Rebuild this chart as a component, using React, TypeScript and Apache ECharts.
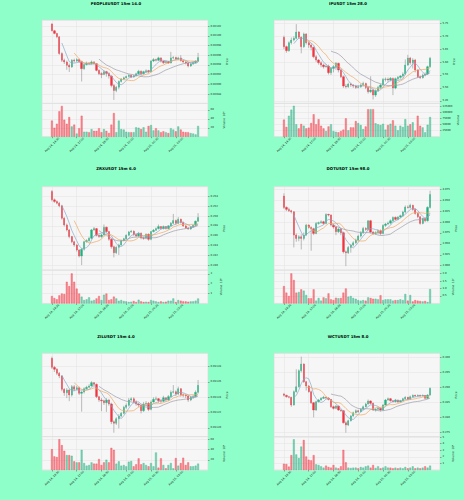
import React, { useEffect, useRef } from 'react';
import * as echarts from 'echarts';

// ---------------- data ----------------
const TICK_LABELS = ['Aug 24, 14:30', 'Aug 24, 17:00', 'Aug 24, 19:30', 'Aug 24, 22:00', 'Aug 25, 00:30', 'Aug 25, 03:00'];
const MA_WINDOWS = [5, 10, 20];

// PEOPLEUSDT (prices in 1e-5, volume in 1e6)
const PEOPLE_OPEN0 = 2102.41;
const PEOPLE_CLOSE = [2101.03,2100.48,2099.79,2096.34,2094.96,2094.62,2093.93,2093.58,2094.96,2094.82,
 2095.10,2094.69,2093.24,2094.07,2094.41,2094.27,2094.62,2094.27,2092.89,2092.20,
 2092.06,2092.62,2092.27,2091.72,2089.79,2088.75,2089.44,2090.62,2091.10,2091.37,
 2091.65,2091.86,2091.51,2091.79,2092.20,2092.69,2092.20,2092.62,2092.82,2092.62,
 2094.82,2095.10,2094.96,2095.45,2094.76,2094.48,2094.69,2094.41,2095.45,2095.51,
 2095.24,2095.45,2094.89,2094.62,2094.41,2093.79,2094.20,2094.48,2094.76,2095.51];
const PEOPLE_HIGH = [2102.60,2101.20,2100.60,2099.90,2096.60,2095.30,2094.90,2094.30,2095.20,2095.30,
 2095.40,2095.30,2094.90,2094.30,2094.70,2094.60,2094.90,2094.80,2094.40,2093.10,
 2092.50,2092.90,2092.80,2092.50,2091.90,2090.10,2089.70,2090.80,2091.30,2091.60,
 2091.80,2092.10,2092.00,2092.00,2092.40,2093.00,2092.90,2092.80,2093.10,2093.00,
 2095.00,2095.40,2095.30,2095.70,2095.60,2094.90,2094.90,2094.80,2096.69,2095.80,
 2095.70,2095.70,2096.00,2095.00,2094.80,2094.60,2094.40,2094.70,2095.00,2096.48];
const PEOPLE_LOW = [2100.90,2100.30,2099.50,2096.10,2094.60,2094.20,2093.00,2092.55,2093.40,2094.50,
 2094.60,2094.40,2090.60,2093.00,2093.90,2094.00,2094.10,2094.00,2092.70,2091.90,
 2091.30,2091.90,2091.60,2091.20,2089.40,2086.82,2088.40,2089.00,2090.40,2090.90,
 2091.20,2091.50,2091.30,2091.40,2091.60,2092.00,2091.80,2092.00,2092.40,2092.30,
 2092.50,2094.60,2094.70,2094.80,2094.50,2094.20,2094.30,2094.20,2094.30,2095.20,
 2095.00,2095.00,2094.70,2094.40,2094.10,2093.50,2093.60,2094.00,2094.30,2094.60];
const PEOPLE_VOL = [36,20,29,57,69,38,29,44,23,27, 7,19,47,11,11,10,17,13,13,19,
 10,17,13,8,27,53,10,36,17,16, 11,10,10,10,21,20,17,21,11,24,
 26,14,19,14,10,12,10,8,19,16, 12,23,16,11,10,10,8,7,5,24];

// IPUSDT
const IP_OPEN0 = 5.6957;
const IP_CLOSE = [5.6596,5.6441,5.6751,5.6854,5.6919,5.7164,5.6957,5.6596,5.7087,5.6751,
 5.6660,5.6570,5.6208,5.6079,5.5975,5.5885,5.5820,5.5846,5.5588,5.5756,
 5.5820,5.5950,5.5691,5.5433,5.5071,5.5045,5.5149,5.5110,5.5071,5.5019,
 5.5045,5.5110,5.5174,5.5019,5.4851,5.4916,5.4722,5.4890,5.5019,5.5110,
 5.5329,5.5340,5.5304,5.5368,5.4994,5.5355,5.5407,5.5459,5.5536,5.5885,
 5.6156,5.5975,5.6079,5.5691,5.5433,5.5395,5.5497,5.5536,5.5820,5.6143];
const IP_HIGH = [5.702,5.664,5.680,5.695,5.700,5.747,5.720,5.700,5.714,5.712,
 5.680,5.672,5.660,5.628,5.612,5.603,5.594,5.592,5.590,5.580,
 5.588,5.600,5.598,5.574,5.548,5.515,5.520,5.520,5.515,5.512,
 5.510,5.516,5.524,5.520,5.505,5.545,5.498,5.494,5.508,5.516,
 5.538,5.540,5.540,5.542,5.540,5.540,5.546,5.550,5.560,5.610,
 5.628,5.620,5.615,5.612,5.572,5.548,5.555,5.560,5.586,5.620];
const IP_LOW = [5.650,5.636,5.640,5.668,5.680,5.688,5.690,5.634,5.655,5.668,
 5.655,5.645,5.615,5.600,5.590,5.580,5.575,5.578,5.552,5.550,
 5.560,5.570,5.560,5.538,5.500,5.498,5.500,5.504,5.500,5.496,
 5.498,5.500,5.506,5.495,5.478,5.480,5.455,5.465,5.484,5.496,
 5.506,5.525,5.522,5.525,5.472,5.495,5.530,5.535,5.540,5.550,
 5.585,5.590,5.575,5.560,5.538,5.534,5.536,5.545,5.550,5.578];
const IP_VOL = [70000,40000,86000,111000,127000,51000,34000,52000,45000,34000,
 37000,56000,92000,51000,72000,45000,34000,23000,42000,51000,
 23000,20000,18000,23000,29000,75000,26000,38000,38000,64000,
 56000,48000,31000,42000,113000,113000,113000,55000,51000,48000,
 53000,29000,48000,53000,67000,45000,26000,45000,40000,72000,
 45000,51000,59000,25000,86000,45000,38000,18000,49000,81000];

// ZRXUSDT (volume in 1e6)
const ZRX_OPEN0 = 0.25502;
const ZRX_CLOSE = [0.25332,0.25298,0.25264,0.25210,0.24958,0.24822,0.24720,0.24584,0.24482,0.24414,
 0.24312,0.24190,0.24326,0.24482,0.24502,0.24550,0.24720,0.24747,0.24611,0.24584,
 0.24618,0.24774,0.24686,0.24530,0.24380,0.24258,0.24366,0.24414,0.24502,0.24543,
 0.24611,0.24679,0.24693,0.24625,0.24598,0.24652,0.24557,0.24550,0.24632,0.24530,
 0.24686,0.24713,0.24747,0.24788,0.24747,0.24788,0.24747,0.24802,0.24856,0.24910,
 0.24856,0.24938,0.24870,0.24802,0.24761,0.24740,0.24781,0.24815,0.24897,0.24972];
const ZRX_HIGH = [0.25530,0.25360,0.25320,0.25290,0.25230,0.24980,0.24850,0.24740,0.24600,0.24500,
 0.24430,0.24330,0.24350,0.24500,0.24530,0.24580,0.24740,0.24780,0.24760,0.24630,
 0.24640,0.24830,0.24790,0.24700,0.24550,0.24400,0.24390,0.24440,0.24520,0.24560,
 0.24630,0.24700,0.24720,0.24710,0.24640,0.24680,0.24670,0.24580,0.24650,0.24650,
 0.24700,0.24740,0.24770,0.24830,0.24800,0.24810,0.24800,0.24820,0.24880,0.25046,
 0.24930,0.24980,0.24950,0.24890,0.24820,0.24780,0.24800,0.24830,0.24910,0.25060];
const ZRX_LOW = [0.25300,0.25270,0.25240,0.25180,0.24930,0.24790,0.24690,0.24550,0.24450,0.24380,
 0.24280,0.24162,0.24006,0.24300,0.24460,0.24480,0.24530,0.24700,0.24590,0.24560,
 0.24560,0.24600,0.24660,0.24500,0.24340,0.24162,0.24230,0.24210,0.24400,0.24490,
 0.24530,0.24600,0.24660,0.24600,0.24570,0.24580,0.24530,0.24520,0.24530,0.24500,
 0.24510,0.24670,0.24700,0.24730,0.24730,0.24730,0.24730,0.24730,0.24790,0.24840,
 0.24830,0.24840,0.24850,0.24780,0.24740,0.24720,0.24720,0.24760,0.24800,0.24880];
const ZRX_VOL = [0.75,0.54,0.41,0.81,1.0,0.95,2.2,1.76,3.05,2.2,
 1.5,1.0,0.68,0.34,0.41,0.61,0.27,0.34,0.5,0.75,
 0.34,0.88,1.0,0.34,0.41,0.68,0.5,0.27,0.34,0.24,
 0.2,0.14,0.17,0.24,0.14,0.37,0.2,0.14,0.17,0.14,
 0.34,0.27,0.2,0.14,0.2,0.14,0.17,0.27,0.27,0.5,
 0.14,0.34,0.27,0.2,0.2,0.17,0.2,0.2,0.27,0.5];

// DOTUSDT (volume in 1e5)
const DOT_OPEN0 = 4.0597;
const DOT_CLOSE = [4.0337,4.0291,4.0260,4.0237,3.9702,3.9625,3.9664,3.9625,3.9702,3.9931,
 3.9878,3.9847,3.9740,3.9970,3.9985,4.0008,3.9970,4.0176,4.0161,3.9931,
 3.9886,3.9779,3.9840,3.9756,3.9319,3.9297,3.9419,3.9473,3.9526,3.9587,
 3.9679,3.9756,3.9855,3.9832,4.0031,3.9771,3.9740,3.9756,3.9801,3.9740,
 3.9924,3.9954,3.9977,4.0031,4.0107,4.0062,4.0115,4.0146,4.0230,4.0345,
 4.0337,4.0383,4.0291,4.0199,4.0123,3.9970,4.0077,4.0031,4.0337,4.0635];
const DOT_HIGH = [4.0658,4.0360,4.0330,4.0280,4.0250,3.9740,3.9700,3.9720,3.9760,3.9960,
 3.9950,3.9900,3.9870,4.0000,4.0010,4.0040,4.0030,4.0200,4.0190,4.0180,
 3.9960,3.9910,3.9870,3.9860,3.9780,3.9350,3.9450,3.9500,3.9560,3.9620,
 3.9710,3.9790,3.9890,3.9880,4.0040,4.0050,3.9800,3.9790,3.9830,3.9830,
 3.9950,3.9980,4.0010,4.0060,4.0130,4.0130,4.0140,4.0170,4.0260,4.0380,
 4.0380,4.0420,4.0400,4.0310,4.0220,4.0140,4.0100,4.0100,4.0360,4.0719];
const DOT_LOW = [4.0300,4.0250,4.0230,4.0200,3.9419,3.9550,3.9560,3.9373,3.9580,3.9680,
 3.9850,3.9342,3.9700,3.9720,3.9940,3.9960,3.9940,3.9950,4.0130,3.9900,
 3.9850,3.9700,3.9750,3.9700,3.9280,3.8990,3.9270,3.9300,3.9440,3.9500,
 3.9560,3.9650,3.9730,3.9800,3.9800,3.9740,3.9700,3.9710,3.9720,3.9700,
 3.9720,3.9890,3.9930,3.9950,4.0000,4.0040,4.0040,4.0090,4.0120,4.0200,
 4.0310,4.0310,4.0260,4.0170,4.0090,3.9940,3.9950,4.0000,4.0010,4.0310];
const DOT_VOL = [1.16,0.72,0.49,2.01,1.57,0.72,0.76,0.94,0.85,0.56,
 0.34,0.34,0.94,0.18,0.36,0.18,0.40,0.34,0.67,0.27,
 0.22,0.38,0.34,0.36,0.72,1.0,0.45,0.49,0.36,0.31,
 0.22,0.18,0.22,0.18,0.40,0.36,0.31,0.31,0.27,0.54,
 0.22,0.27,0.27,0.27,0.18,0.22,0.22,0.27,0.22,0.63,
 0.18,0.56,0.13,0.22,0.18,0.16,0.13,0.16,0.09,0.96];

// ZILUSDT (prices in 1e-5, volume in 1e6)
const ZIL_OPEN0 = 1129.09;
const ZIL_CLOSE = [1127.91,1127.65,1127.13,1126.78,1125.04,1124.61,1124.96,1124.30,1125.39,1125.04,
 1125.26,1124.52,1124.69,1125.13,1125.30,1125.48,1125.91,1125.69,1124.09,1123.65,
 1123.56,1123.30,1123.65,1123.13,1120.82,1120.61,1121.21,1121.56,1121.91,1122.69,
 1122.95,1123.65,1123.82,1123.43,1123.13,1123.00,1122.26,1123.13,1123.22,1122.43,
 1123.39,1123.74,1123.82,1123.56,1123.48,1123.95,1123.65,1124.09,1124.65,1124.74,
 1124.43,1125.13,1124.35,1124.26,1124.17,1123.65,1124.00,1124.09,1124.65,1125.56];
const ZIL_HIGH = [1129.30,1128.10,1127.80,1127.30,1126.90,1125.20,1125.20,1125.10,1125.60,1125.60,
 1125.50,1125.40,1124.90,1125.30,1125.50,1125.70,1126.10,1126.00,1125.80,1124.20,
 1123.90,1123.70,1123.90,1123.80,1123.30,1121.00,1121.40,1121.80,1122.10,1122.90,
 1123.20,1123.90,1124.00,1124.00,1123.60,1123.30,1123.10,1123.40,1123.50,1123.40,
 1123.60,1124.00,1124.10,1123.90,1123.80,1124.20,1124.00,1124.30,1124.90,1125.60,
 1124.90,1125.40,1125.20,1124.50,1124.40,1124.30,1124.20,1124.30,1124.90,1126.26];
const ZIL_LOW = [1127.70,1127.30,1126.90,1126.50,1124.80,1124.20,1123.90,1123.50,1124.10,1124.80,
 1124.90,1124.30,1122.13,1124.50,1125.00,1125.20,1125.40,1125.50,1123.90,1123.40,
 1122.20,1123.00,1122.10,1122.90,1120.50,1119.39,1120.40,1119.95,1121.40,1121.80,
 1122.50,1122.80,1123.50,1123.20,1122.90,1122.70,1121.90,1122.10,1122.90,1122.20,
 1122.30,1123.30,1123.60,1123.30,1123.20,1123.40,1123.40,1123.50,1124.00,1124.50,
 1124.20,1124.30,1124.10,1124.00,1123.90,1123.40,1123.50,1123.80,1124.00,1124.50];
const ZIL_VOL = [40.6,26.5,25.2,60,48.4,37.4,29,29,27.7,16.8,
 14.8,14.8,39.3,13.5,8.4,9.7,14.8,12.3,12.3,21.3,
 9.7,14.8,20,14.8,43.2,39.3,12.3,16.8,8.4,9.7,
 7.1,16.1,17.4,7.1,11,22.6,11,13.5,9.7,7.1,
 13.5,7.1,34.2,4.5,22.6,9.7,3.2,9.7,13.5,3.2,
 23.2,8.4,13.5,23.9,9.7,14.8,7.1,7.1,8.4,12.3];

// WCTUSDT (volume in 1e6)
const WCT_OPEN0 = 0.28783;
const WCT_CLOSE = [0.28739,0.28695,0.28673,0.28418,0.28861,0.29027,0.29558,0.29779,0.29193,0.29049,
 0.28861,0.28496,0.28253,0.28529,0.28584,0.28640,0.28673,0.28650,0.28606,0.28363,
 0.28308,0.28385,0.28253,0.28230,0.27832,0.27755,0.27899,0.28053,0.28164,0.28230,
 0.28197,0.28275,0.28363,0.28452,0.28551,0.28474,0.28253,0.28275,0.28308,0.28253,
 0.28418,0.28584,0.28629,0.28562,0.28529,0.28584,0.28518,0.28562,0.28629,0.28673,
 0.28606,0.28695,0.28739,0.28717,0.28739,0.28717,0.28739,0.28640,0.28750,0.28971];
const WCT_HIGH = [0.28820,0.28760,0.28720,0.28690,0.28900,0.29602,0.29600,0.30022,0.29800,0.29220,
 0.29080,0.28900,0.28520,0.28560,0.28620,0.28680,0.28720,0.28700,0.28680,0.28620,
 0.28400,0.28420,0.28400,0.28290,0.28250,0.27880,0.27930,0.28090,0.28200,0.28270,
 0.28260,0.28310,0.28400,0.28490,0.28600,0.28580,0.28500,0.28310,0.28340,0.28330,
 0.28450,0.28620,0.28670,0.28650,0.28580,0.28620,0.28600,0.28590,0.28660,0.28710,
 0.28690,0.28730,0.28770,0.28760,0.28770,0.28760,0.28770,0.28750,0.28780,0.29000];
const WCT_LOW = [0.28700,0.28660,0.28640,0.28363,0.28400,0.28830,0.29000,0.29500,0.29150,0.28900,
 0.28830,0.28450,0.28009,0.28220,0.28500,0.28560,0.28620,0.28620,0.28570,0.28320,
 0.28270,0.28280,0.28220,0.28190,0.27800,0.27500,0.27720,0.27870,0.28030,0.28140,
 0.28160,0.28180,0.28250,0.28340,0.28430,0.28440,0.28220,0.28200,0.28250,0.28200,
 0.28230,0.28400,0.28560,0.28530,0.28500,0.28500,0.28490,0.28500,0.28540,0.28600,
 0.28580,0.28590,0.28670,0.28690,0.28700,0.28690,0.28700,0.28610,0.28620,0.28730];
const WCT_VOL = [0.95,0.9,0.5,2.25,4.65,2.35,1.8,3.55,4.55,2.05,
 1.55,1.45,2.25,0.85,0.75,0.55,0.35,0.65,0.45,0.35,
 0.75,0.35,0.25,0.55,3.05,1.15,0.35,0.3,0.35,0.35,
 0.25,0.45,0.35,0.55,0.65,0.35,0.75,0.3,0.55,0.25,
 0.35,0.55,0.35,0.35,0.25,0.35,0.25,0.35,0.25,0.45,
 0.25,0.35,0.55,0.25,0.35,0.25,0.35,0.55,0.35,0.65];

// ---------------- panel configuration ----------------
const PANELS = [
  { title: 'PEOPLEUSDT 15m 14.0', open0: PEOPLE_OPEN0, close: PEOPLE_CLOSE, high: PEOPLE_HIGH, low: PEOPLE_LOW, vol: PEOPLE_VOL, unit: 1e-5,
    yMin: 0.020861, yMax: 0.0210324, yStep: 0.00002, dec: 5, volMax: 74.8, volStep: 20, volDec: 0, volName: 'Volume  10⁶', gap: 14 },
  { title: 'IPUSDT 15m 28.0', open0: IP_OPEN0, close: IP_CLOSE, high: IP_HIGH, low: IP_LOW, vol: IP_VOL, unit: 1,
    yMin: 5.4399, yMax: 5.7629, yStep: 0.05, dec: 2, volMax: 137000, volStep: 25000, volDec: 0, volName: 'Volume', gap: 10 },
  { title: 'ZRXUSDT 15m 6.0', open0: ZRX_OPEN0, close: ZRX_CLOSE, high: ZRX_HIGH, low: ZRX_LOW, vol: ZRX_VOL, unit: 1,
    yMin: 0.23904, yMax: 0.25598, yStep: 0.002, dec: 3, volMax: 3.39, volStep: 1, volDec: 0, volName: 'Volume  10⁶', gap: 11 },
  { title: 'DOTUSDT 15m 98.0', open0: DOT_OPEN0, close: DOT_CLOSE, high: DOT_HIGH, low: DOT_LOW, vol: DOT_VOL, unit: 1,
    yMin: 3.8899, yMax: 4.0811, yStep: 0.025, dec: 3, volMax: 2.237, volStep: 0.5, volDec: 1, volName: 'Volume  10⁵', gap: 11 },
  { title: 'ZILUSDT 15m 4.0', open0: ZIL_OPEN0, close: ZIL_CLOSE, high: ZIL_HIGH, low: ZIL_LOW, vol: ZIL_VOL, unit: 1e-5,
    yMin: 0.01118865, yMax: 0.0112974, yStep: 0.00002, dec: 5, volMax: 65, volStep: 20, volDec: 0, volName: 'Volume  10⁶', gap: 14 },
  { title: 'WCTUSDT 15m 8.0', open0: WCT_OPEN0, close: WCT_CLOSE, high: WCT_HIGH, low: WCT_LOW, vol: WCT_VOL, unit: 1,
    yMin: 0.27368, yMax: 0.30133, yStep: 0.005, dec: 3, volMax: 5.05, volStep: 1, volDec: 0, volName: 'Volume  10⁶', gap: 11 },
];

// ---------------- styles / layout ----------------
const BG = '#8effc8';
const PLOT_BG = '#f6f6f6';
const GRID_LINE = '#e2e2e2';
const BORDER = '#d6d6d6';
const UP = '#1fb07e';
const DOWN = '#f2333f';
const UP_VOL = 'rgba(31,176,126,0.55)';
const DOWN_VOL = 'rgba(242,51,63,0.55)';
const WICK = 'rgba(110,110,110,0.75)';
const MA_COLORS = ['#8aa8c8', '#f0a860', '#9b9bab'];
const FONT = 'DejaVu Sans';
const TXT = '#222';

const COL_LEFT = [42, 274];
const BOX_W = 166;
const ROW_TOP = [20, 186.7, 353.3];
const MAIN_H = 83.4;
const VOL_H = 33.3;
const TITLE_X = [116, 348];
const TITLE_Y = [3.5, 168.5, 336];
const PAD = 4;

function sma(arr: number[], n: number) {
  return arr.map((_, i) => {
    if (i < n - 1) return null;
    let s = 0;
    for (let k = i - n + 1; k <= i; k++) s += arr[k];
    return s / n;
  });
}

function buildOption() {
  const N = PANELS[0].close.length;
  const cats = Array.from({ length: N + 2 * PAD }, (_, i) => String(i - PAD));
  const isTick = (idx: number) => {
    const j = idx - PAD;
    return j >= 0 && j % 10 === 0 && j / 10 < TICK_LABELS.length;
  };
  const padArr = (arr: any[], empty: any) => [
    ...Array(PAD).fill(empty), ...arr, ...Array(PAD).fill(empty),
  ];

  const grids: any[] = [];
  const xAxes: any[] = [];
  const yAxes: any[] = [];
  const series: any[] = [];
  const graphics: any[] = [];

  PANELS.forEach((p, k) => {
    const col = k % 2;
    const row = Math.floor(k / 2);
    const close = p.close.map((v) => v * p.unit);
    const high = p.high.map((v) => v * p.unit);
    const low = p.low.map((v) => v * p.unit);
    const open = [p.open0 * p.unit, ...close.slice(0, -1)];

    const gMain = grids.length;
    grids.push({ left: COL_LEFT[col], top: ROW_TOP[row], width: BOX_W, height: MAIN_H, show: true,
      backgroundColor: PLOT_BG, borderColor: BORDER, borderWidth: 0.6 });
    const gVol = grids.length;
    grids.push({ left: COL_LEFT[col], top: ROW_TOP[row] + MAIN_H, width: BOX_W, height: VOL_H, show: true,
      backgroundColor: PLOT_BG, borderColor: BORDER, borderWidth: 0.6 });

    const xBase = {
      type: 'category', data: cats, boundaryGap: false,
      axisLine: { show: false },
      splitLine: { show: true, interval: (i: number) => isTick(i), lineStyle: { color: GRID_LINE, width: 0.5 } },
    };
    xAxes.push({ ...xBase, gridIndex: gMain, axisTick: { show: false }, axisLabel: { show: false } });
    xAxes.push({ ...xBase, gridIndex: gVol,
      axisTick: { show: true, interval: (i: number) => isTick(i), length: 1.5, lineStyle: { color: '#555', width: 0.5 } },
      axisLabel: { show: true, interval: (i: number) => isTick(i), rotate: 45, align: 'center', verticalAlign: 'middle',
        margin: 8, fontSize: 2.8, color: TXT, fontFamily: FONT,
        formatter: (_v: string, i: number) => TICK_LABELS[(i - PAD) / 10] ?? '' } });

    const yBase = {
      type: 'value', position: 'right', scale: true,
      axisLine: { show: false },
      axisTick: { show: true, length: 1.5, lineStyle: { color: '#555', width: 0.5 } },
      splitLine: { show: true, lineStyle: { color: GRID_LINE, width: 0.5 } },
      nameLocation: 'middle', nameRotate: 90,
      nameTextStyle: { fontSize: 2.8, color: TXT, fontFamily: FONT },
    };
    const yMainIdx = yAxes.length;
    yAxes.push({ ...yBase, gridIndex: gMain, min: p.yMin, max: p.yMax, minInterval: p.yStep, maxInterval: p.yStep,
      name: 'Price', nameGap: p.gap,
      axisLabel: { fontSize: 2.6, margin: 2.5, color: TXT, fontFamily: FONT, showMinLabel: false, showMaxLabel: false,
        formatter: (v: number) => v.toFixed(p.dec) } });
    const yVolIdx = yAxes.length;
    yAxes.push({ ...yBase, gridIndex: gVol, min: 0, max: p.volMax, minInterval: p.volStep, maxInterval: p.volStep,
      name: p.volName, nameGap: p.gap,
      axisLabel: { fontSize: 2.6, margin: 2.5, color: TXT, fontFamily: FONT, showMinLabel: false, showMaxLabel: false,
        formatter: (v: number) => v.toFixed(p.volDec) } });

    // wicks
    series.push({
      type: 'custom', xAxisIndex: gMain, yAxisIndex: yMainIdx, silent: true, clip: true,
      encode: { x: 0, y: [1, 2] },
      data: close.map((_, i) => [i + PAD, low[i], high[i]]),
      renderItem: (_params: any, api: any) => {
        const x = api.value(0);
        const a = api.coord([x, api.value(1)]);
        const b = api.coord([x, api.value(2)]);
        return { type: 'line', shape: { x1: a[0], y1: a[1], x2: b[0], y2: b[1] },
          style: { stroke: WICK, lineWidth: 0.6 } };
      },
    });
    // bodies
    series.push({
      type: 'candlestick', xAxisIndex: gMain, yAxisIndex: yMainIdx, barWidth: 1.8, silent: true,
      itemStyle: { color: UP, color0: DOWN, borderColor: UP, borderColor0: DOWN, borderWidth: 0.3 },
      data: padArr(close.map((c, i) => [open[i], c, Math.min(open[i], c), Math.max(open[i], c)]), ['-', '-', '-', '-']),
    });
    // moving averages
    MA_WINDOWS.forEach((w, m) => {
      series.push({
        type: 'line', xAxisIndex: gMain, yAxisIndex: yMainIdx, showSymbol: false, silent: true,
        lineStyle: { color: MA_COLORS[m], width: 0.7 },
        data: padArr(sma(close, w).map((v) => (v == null ? '-' : v)), '-'),
      });
    });
    // volume
    series.push({
      type: 'bar', xAxisIndex: gVol, yAxisIndex: yVolIdx, barWidth: 1.8, silent: true,
      data: padArr(p.vol.map((v, i) => {
        const up = close[i] >= open[i];
        return { value: v, itemStyle: { color: up ? UP_VOL : DOWN_VOL, borderColor: up ? UP : DOWN, borderWidth: 0.3 } };
      }), '-'),
    });

    graphics.push({ type: 'text', x: TITLE_X[col], y: TITLE_Y[row],
      style: { text: p.title, align: 'center', verticalAlign: 'middle', fill: '#000',
        font: `bold 3.9px "${FONT}"` } });
  });

  return {
    animation: false,
    backgroundColor: BG,
    textStyle: { fontFamily: FONT },
    grid: grids,
    xAxis: xAxes,
    yAxis: yAxes,
    series,
    graphic: graphics,
  };
}

export default function App() {
  const ref = useRef<HTMLDivElement>(null);
  useEffect(() => {
    document.body.style.margin = '0';
    document.body.style.background = BG;
    const chart = echarts.init(ref.current as HTMLDivElement, null, { renderer: 'svg' });
    chart.setOption(buildOption() as any);
    return () => chart.dispose();
  }, []);
  return <div ref={ref} style={{ width: 464, height: 500 }} />;
}
